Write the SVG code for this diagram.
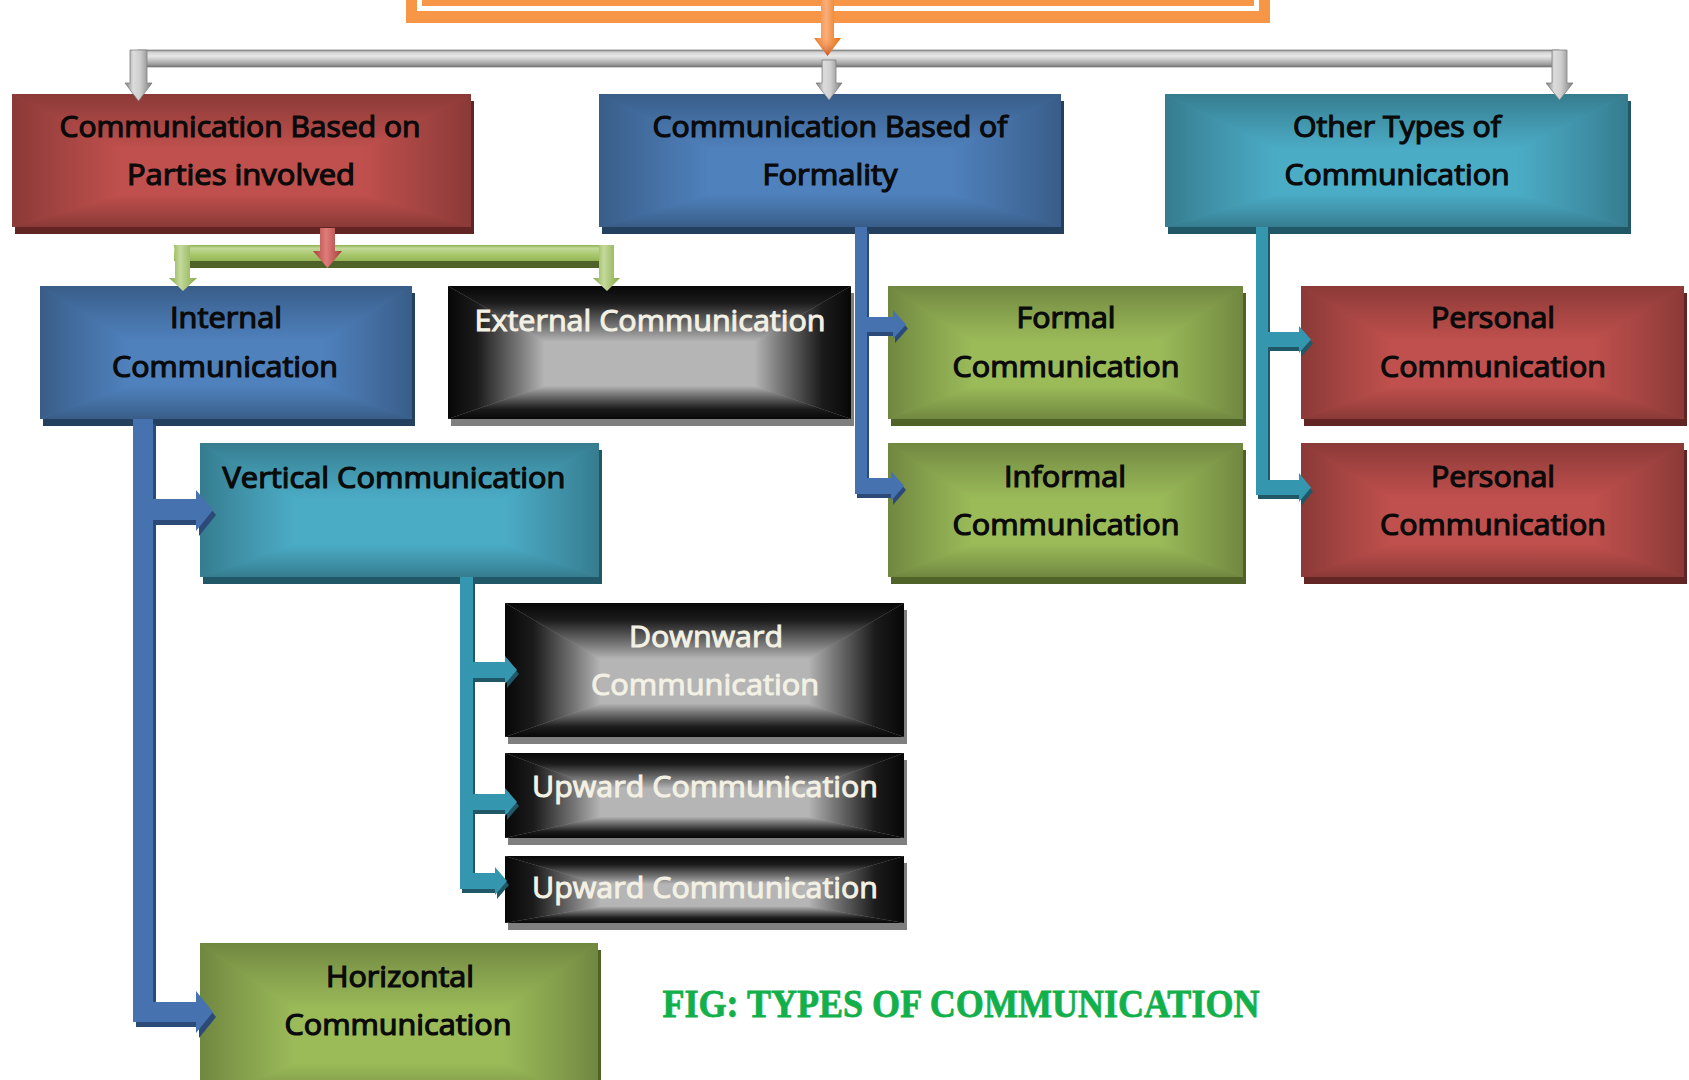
<svg xmlns="http://www.w3.org/2000/svg" xmlns:xlink="http://www.w3.org/1999/xlink" width="1689" height="1080" viewBox="0 0 1689 1080">
  <style>
    .t { font-family: "Open Sans", "Liberation Sans", sans-serif; font-weight: 400; font-size: 29px; text-anchor: middle; fill: #0a0a0a; stroke: #0a0a0a; stroke-width: 1.2px; }
    .tl { fill: #f3f1e4; stroke: #f3f1e4; stroke-width: 1px; }
    .cap { font-family: "Liberation Serif", "DejaVu Serif", serif; font-weight: 700; font-size: 40px; text-anchor: middle; fill: #12b04b; stroke: #12b04b; stroke-width: 0.8px; }
    .dk-red { fill: #632523; }
    .dk-blue { fill: #24405f; }
    .dk-teal { fill: #215868; }
    .dk-green { fill: #4f6228; }
    .dk-gray { fill: #7f7f7f; }
    .face-black { fill: #b5b5b5; }
  </style>
  <defs>
    <!-- edge darkening for the coloured boxes (rectangular "from centre" shading) -->
    <linearGradient id="soft">
      <stop offset="0" stop-color="#000" stop-opacity="0.28"/>
      <stop offset="0.4" stop-color="#000" stop-opacity="0.16"/>
      <stop offset="1" stop-color="#000" stop-opacity="0"/>
    </linearGradient>
    <linearGradient id="soft-t" xlink:href="#soft" x1="0" y1="0" x2="0" y2="1"/>
    <linearGradient id="soft-b" xlink:href="#soft" x1="0" y1="1" x2="0" y2="0"/>
    <linearGradient id="soft-l" xlink:href="#soft" x1="0" y1="0" x2="1" y2="0"/>
    <linearGradient id="soft-r" xlink:href="#soft" x1="1" y1="0" x2="0" y2="0"/>
    <!-- strong shading for the black boxes -->
    <linearGradient id="hard">
      <stop offset="0" stop-color="#000" stop-opacity="0.96"/>
      <stop offset="0.3" stop-color="#000" stop-opacity="0.85"/>
      <stop offset="0.75" stop-color="#000" stop-opacity="0.32"/>
      <stop offset="1" stop-color="#000" stop-opacity="0"/>
    </linearGradient>
    <linearGradient id="hard-t" xlink:href="#hard" x1="0" y1="0" x2="0" y2="1"/>
    <linearGradient id="hard-b" xlink:href="#hard" x1="0" y1="1" x2="0" y2="0"/>
    <linearGradient id="hard-l" xlink:href="#hard" x1="0" y1="0" x2="1" y2="0"/>
    <linearGradient id="hard-r" xlink:href="#hard" x1="1" y1="0" x2="0" y2="0"/>

    <!-- unit-square shading faces, scaled onto each box -->
    <g id="shadeSoft">
      <polygon points="0,0 1,0 0.76,0.42 0.24,0.42" fill="url(#soft-t)"/>
      <polygon points="0,1 1,1 0.76,0.75 0.24,0.75" fill="url(#soft-b)"/>
      <polygon points="0,0 0.24,0.42 0.24,0.75 0,1" fill="url(#soft-l)"/>
      <polygon points="1,0 0.76,0.42 0.76,0.75 1,1" fill="url(#soft-r)"/>
    </g>
    <g id="shadeHard">
      <polygon points="0,0 1,0 0.76,0.42 0.24,0.42" fill="url(#hard-t)"/>
      <polygon points="0,1 1,1 0.76,0.75 0.24,0.75" fill="url(#hard-b)"/>
      <polygon points="0,0 0.24,0.42 0.24,0.75 0,1" fill="url(#hard-l)"/>
      <polygon points="1,0 0.76,0.42 0.76,0.75 1,1" fill="url(#hard-r)"/>
    </g>

    <!-- connector fills -->
    <linearGradient id="grayBar" x1="0" y1="0" x2="0" y2="1">
      <stop offset="0" stop-color="#7a7a7a"/>
      <stop offset="0.12" stop-color="#d0d0d0"/>
      <stop offset="0.35" stop-color="#e8e8e8"/>
      <stop offset="0.6" stop-color="#c4c4c4"/>
      <stop offset="0.85" stop-color="#9c9c9c"/>
      <stop offset="1" stop-color="#6a6a6a"/>
    </linearGradient>
    <linearGradient id="grayShaft" x1="0" y1="0" x2="1" y2="0">
      <stop offset="0" stop-color="#7a7a7a"/>
      <stop offset="0.3" stop-color="#dcdcdc"/>
      <stop offset="0.55" stop-color="#cfcfcf"/>
      <stop offset="1" stop-color="#7c7c7c"/>
    </linearGradient>
    <linearGradient id="orangeArrow" x1="0" y1="0" x2="1" y2="0">
      <stop offset="0" stop-color="#ec7a2c"/>
      <stop offset="0.45" stop-color="#fbb07a"/>
      <stop offset="1" stop-color="#e46c0a"/>
    </linearGradient>
    <linearGradient id="orangeTip" x1="0" y1="0" x2="0" y2="1">
      <stop offset="0" stop-color="#f79646" stop-opacity="0"/>
      <stop offset="1" stop-color="#b9471c" stop-opacity="0.9"/>
    </linearGradient>
    <linearGradient id="redArrow" x1="0" y1="0" x2="1" y2="0">
      <stop offset="0" stop-color="#a8403d"/>
      <stop offset="0.45" stop-color="#e07d7a"/>
      <stop offset="1" stop-color="#a33e3b"/>
    </linearGradient>
    <linearGradient id="greenBar" x1="0" y1="0" x2="0" y2="1">
      <stop offset="0" stop-color="#8db24a"/>
      <stop offset="0.2" stop-color="#c2d99a"/>
      <stop offset="0.6" stop-color="#a9c86d"/>
      <stop offset="1" stop-color="#94b556"/>
    </linearGradient>
    <linearGradient id="greenShaft" x1="0" y1="0" x2="1" y2="0">
      <stop offset="0" stop-color="#86a845"/>
      <stop offset="0.4" stop-color="#c4da9c"/>
      <stop offset="1" stop-color="#86a845"/>
    </linearGradient>
  </defs>

  <rect width="1689" height="1080" fill="#ffffff"/>

  <!-- nodes -->
  <g id="nodes">
    <g id="n-root">
      <rect x="406" y="-80" width="864" height="103" fill="#f79646"/>
      <rect x="419.5" y="-80" width="837" height="88.5" fill="none" stroke="#ffffff" stroke-width="5"/>
    </g>

    <g id="n-parties">
      <rect class="dk-red" x="15" y="101" width="459" height="133"/>
      <rect x="12" y="94" width="459" height="133" fill="#c0504d"/>
      <use xlink:href="#shadeSoft" transform="translate(12 94) scale(459 133)"/>
      <text class="t" x="240" y="137" textLength="361" lengthAdjust="spacingAndGlyphs">Communication Based on</text>
      <text class="t" x="241" y="185" textLength="228" lengthAdjust="spacingAndGlyphs">Parties involved</text>
    </g>

    <g id="n-formality">
      <rect class="dk-blue" x="602" y="101" width="462" height="133"/>
      <rect x="599" y="94" width="462" height="133" fill="#4f81bd"/>
      <use xlink:href="#shadeSoft" transform="translate(599 94) scale(462 133)"/>
      <text class="t" x="830" y="137" textLength="355" lengthAdjust="spacingAndGlyphs">Communication Based of</text>
      <text class="t" x="830" y="185" textLength="135" lengthAdjust="spacingAndGlyphs">Formality</text>
    </g>

    <g id="n-other">
      <rect class="dk-teal" x="1168" y="101" width="463" height="133"/>
      <rect x="1165" y="94" width="463" height="133" fill="#4bacc6"/>
      <use xlink:href="#shadeSoft" transform="translate(1165 94) scale(463 133)"/>
      <text class="t" x="1397" y="137" textLength="208" lengthAdjust="spacingAndGlyphs">Other Types of</text>
      <text class="t" x="1397" y="185" textLength="225" lengthAdjust="spacingAndGlyphs">Communication</text>
    </g>

    <g id="n-internal">
      <rect class="dk-blue" x="43" y="293" width="372" height="133"/>
      <rect x="40" y="286" width="372" height="133" fill="#4f81bd"/>
      <use xlink:href="#shadeSoft" transform="translate(40 286) scale(372 133)"/>
      <text class="t" x="226" y="328" textLength="112" lengthAdjust="spacingAndGlyphs">Internal</text>
      <text class="t" x="225" y="377" textLength="226" lengthAdjust="spacingAndGlyphs">Communication</text>
    </g>

    <g id="n-external">
      <rect class="dk-gray" x="451" y="293" width="403" height="133"/>
      <rect class="face-black" x="448" y="286" width="403" height="133"/>
      <use xlink:href="#shadeHard" transform="translate(448 286) scale(403 133)"/>
      <text class="t tl" x="650" y="331" textLength="351" lengthAdjust="spacingAndGlyphs">External Communication</text>
    </g>

    <g id="n-formal">
      <rect class="dk-green" x="891" y="293" width="355" height="133"/>
      <rect x="888" y="286" width="355" height="133" fill="#9bbb59"/>
      <use xlink:href="#shadeSoft" transform="translate(888 286) scale(355 133)"/>
      <text class="t" x="1066" y="328" textLength="99" lengthAdjust="spacingAndGlyphs">Formal</text>
      <text class="t" x="1066" y="377" textLength="227" lengthAdjust="spacingAndGlyphs">Communication</text>
    </g>

    <g id="n-personal-1">
      <rect class="dk-red" x="1304" y="293" width="383" height="133"/>
      <rect x="1301" y="286" width="383" height="133" fill="#c0504d"/>
      <use xlink:href="#shadeSoft" transform="translate(1301 286) scale(383 133)"/>
      <text class="t" x="1493" y="328" textLength="124" lengthAdjust="spacingAndGlyphs">Personal</text>
      <text class="t" x="1493" y="377" textLength="226" lengthAdjust="spacingAndGlyphs">Communication</text>
    </g>

    <g id="n-vertical">
      <rect class="dk-teal" x="203" y="450" width="399" height="134"/>
      <rect x="200" y="443" width="399" height="134" fill="#4bacc6"/>
      <use xlink:href="#shadeSoft" transform="translate(200 443) scale(399 134)"/>
      <text class="t" x="394" y="488" textLength="343" lengthAdjust="spacingAndGlyphs">Vertical Communication</text>
    </g>

    <g id="n-informal">
      <rect class="dk-green" x="891" y="450" width="355" height="134"/>
      <rect x="888" y="443" width="355" height="134" fill="#9bbb59"/>
      <use xlink:href="#shadeSoft" transform="translate(888 443) scale(355 134)"/>
      <text class="t" x="1065" y="487" textLength="122" lengthAdjust="spacingAndGlyphs">Informal</text>
      <text class="t" x="1066" y="535" textLength="227" lengthAdjust="spacingAndGlyphs">Communication</text>
    </g>

    <g id="n-personal-2">
      <rect class="dk-red" x="1304" y="450" width="383" height="134"/>
      <rect x="1301" y="443" width="383" height="134" fill="#c0504d"/>
      <use xlink:href="#shadeSoft" transform="translate(1301 443) scale(383 134)"/>
      <text class="t" x="1493" y="487" textLength="124" lengthAdjust="spacingAndGlyphs">Personal</text>
      <text class="t" x="1493" y="535" textLength="226" lengthAdjust="spacingAndGlyphs">Communication</text>
    </g>

    <g id="n-downward">
      <rect class="dk-gray" x="508" y="610" width="399" height="134"/>
      <rect class="face-black" x="505" y="603" width="399" height="134"/>
      <use xlink:href="#shadeHard" transform="translate(505 603) scale(399 134)"/>
      <text class="t tl" x="706" y="647" textLength="154" lengthAdjust="spacingAndGlyphs">Downward</text>
      <text class="t tl" x="705" y="695" textLength="228" lengthAdjust="spacingAndGlyphs">Communication</text>
    </g>

    <g id="n-upward-1">
      <rect class="dk-gray" x="508" y="760" width="399" height="85"/>
      <rect class="face-black" x="505" y="753" width="399" height="85"/>
      <use xlink:href="#shadeHard" transform="translate(505 753) scale(399 85)"/>
      <text class="t tl" x="705" y="797" textLength="346" lengthAdjust="spacingAndGlyphs">Upward Communication</text>
    </g>

    <g id="n-upward-2">
      <rect class="dk-gray" x="508" y="863" width="399" height="67"/>
      <rect class="face-black" x="505" y="856" width="399" height="67"/>
      <use xlink:href="#shadeHard" transform="translate(505 856) scale(399 67)"/>
      <text class="t tl" x="705" y="898" textLength="346" lengthAdjust="spacingAndGlyphs">Upward Communication</text>
    </g>

    <g id="n-horizontal">
      <rect class="dk-green" x="203" y="950" width="398" height="160"/>
      <rect x="200" y="943" width="398" height="160" fill="#9bbb59"/>
      <use xlink:href="#shadeSoft" transform="translate(200 943) scale(398 160)"/>
      <text class="t" x="400" y="987" textLength="148" lengthAdjust="spacingAndGlyphs">Horizontal</text>
      <text class="t" x="398" y="1035" textLength="227" lengthAdjust="spacingAndGlyphs">Communication</text>
    </g>
  </g>

  <!-- connectors -->
  <g id="connectors">
    <!-- root to the three main categories -->
    <g id="c-root">
      <rect x="138" y="50" width="1421" height="17" fill="url(#grayBar)" stroke="#8a8a8a" stroke-width="0.8"/>
      <path d="M130,50 H147 V83 H152 L138.5,101 L125,83 H130 Z" fill="url(#grayShaft)" stroke="#808080" stroke-width="0.8"/>
      <path d="M822,60 H836 V83 H842 L829,100 L816,83 H822 Z" fill="url(#grayShaft)" stroke="#808080" stroke-width="0.8"/>
      <path d="M1552,50 H1567 V83 H1573 L1559.5,100 L1546,83 H1552 Z" fill="url(#grayShaft)" stroke="#808080" stroke-width="0.8"/>
      <path d="M821,0 H834 V38 H841 L827.5,56 L814,38 H821 Z" fill="url(#orangeArrow)"/>
      <path d="M814,38 H841 L827.5,56 Z" fill="url(#orangeTip)"/>
    </g>

    <!-- parties involved: internal / external -->
    <g id="c-parties">
      <rect x="190" y="258" width="420" height="10" fill="#4f6228"/>
      <rect x="174" y="245" width="439" height="16" fill="url(#greenBar)"/>
      <path d="M175,245 H190 V278 H197 L183,291 L169,278 H175 Z" fill="url(#greenShaft)"/>
      <path d="M599,245 H614 V278 H620 L607,291 L593,278 H599 Z" fill="url(#greenShaft)"/>
      <path d="M320,228 H335 V251 H342 L327.5,268 L313,251 H320 Z" fill="url(#redArrow)"/>
    </g>

    <!-- internal: vertical / horizontal -->
    <g id="c-internal">
      <path d="M133,419 H153 V499 H196 V490 L213,510 L196,531 V520 H153 V1002 H196 V991 L213,1012 L196,1033 V1022 H133 Z" fill="#2b4a78" transform="translate(3 5)"/>
      <path d="M133,419 H153 V499 H196 V490 L213,510 L196,531 V520 H153 V1002 H196 V991 L213,1012 L196,1033 V1022 H133 Z" fill="#4673b0"/>
    </g>

    <!-- formality: formal / informal -->
    <g id="c-formality">
      <path d="M855,227 H867 V317 H893 V310 L906,324.5 L893,339 V332 H867 V478 H891 V471 L904,486 L891,501 V494 H855 Z" fill="#2b4a78" transform="translate(2 4)"/>
      <path d="M855,227 H867 V317 H893 V310 L906,324.5 L893,339 V332 H867 V478 H891 V471 L904,486 L891,501 V494 H855 Z" fill="#4673b0"/>
    </g>

    <!-- other types: personal / personal -->
    <g id="c-other">
      <path d="M1256,227 H1268 V332 H1299 V326 L1311,339.5 L1299,353 V347 H1268 V480 H1299 V473 L1311,487.5 L1299,502 V495 H1256 Z" fill="#215868" transform="translate(2 4)"/>
      <path d="M1256,227 H1268 V332 H1299 V326 L1311,339.5 L1299,353 V347 H1268 V480 H1299 V473 L1311,487.5 L1299,502 V495 H1256 Z" fill="#3596b0"/>
    </g>

    <!-- vertical: downward / upward / upward -->
    <g id="c-vertical">
      <path d="M460,577 H473 V662 H505 V656 L517,670 L505,684 V678 H473 V794 H505 V788 L517,802 L505,816 V810 H473 V873 H495 V867 L507,881 L495,895 V889 H460 Z" fill="#215868" transform="translate(2 4)"/>
      <path d="M460,577 H473 V662 H505 V656 L517,670 L505,684 V678 H473 V794 H505 V788 L517,802 L505,816 V810 H473 V873 H495 V867 L507,881 L495,895 V889 H460 Z" fill="#3596b0"/>
    </g>
  </g>

  <text class="cap" x="961" y="1017" textLength="597" lengthAdjust="spacingAndGlyphs">FIG: TYPES OF COMMUNICATION</text>
</svg>
